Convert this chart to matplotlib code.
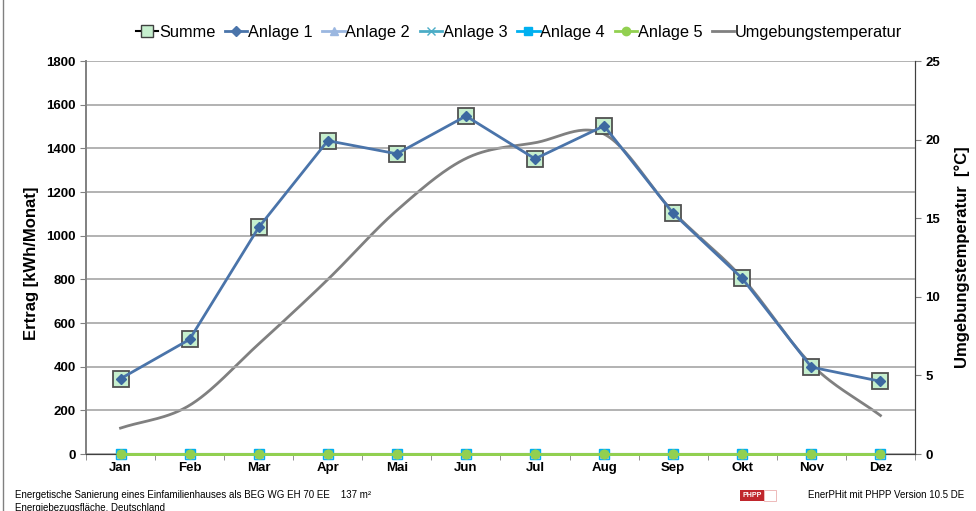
import numpy as np
import matplotlib
matplotlib.use("Agg")
from matplotlib import pyplot as plt
from matplotlib.patches import Rectangle
from matplotlib.lines import Line2D

plt.rcParams['font.family'] = ['Liberation Sans', 'DejaVu Sans']

# data
months = ['Jan', 'Feb', 'Mar', 'Apr', 'Mai', 'Jun', 'Jul', 'Aug', 'Sep', 'Okt', 'Nov', 'Dez']
summe = [345, 525, 1038, 1435, 1375, 1548, 1352, 1503, 1102, 804, 398, 333]
anlage1 = [345, 525, 1038, 1435, 1375, 1548, 1352, 1503, 1102, 804, 398, 333]
anlage2 = [0] * 12
anlage3 = [0] * 12
anlage4 = [0] * 12
anlage5 = [0] * 12
temperatur = [1.65, 3.1, 7.0, 11.1, 15.5, 18.8, 19.8, 20.35, 15.4, 11.2, 5.7, 2.45]


def smooth(xs, ys, n=30):
	# Catmull-Rom spline, similar to the smoothed line of the spreadsheet
	xs = np.asarray(xs, float)
	ys = np.asarray(ys, float)
	px = np.concatenate([[2 * xs[0] - xs[1]], xs, [2 * xs[-1] - xs[-2]]])
	py = np.concatenate([[2 * ys[0] - ys[1]], ys, [2 * ys[-1] - ys[-2]]])
	ox, oy = [], []
	for i in range(1, len(px) - 2):
		t = np.linspace(0, 1, n, endpoint=False)
		for p, o in ((px, ox), (py, oy)):
			p0, p1, p2, p3 = p[i - 1], p[i], p[i + 1], p[i + 2]
			o.extend(0.5 * ((2 * p1) + (-p0 + p2) * t + (2 * p0 - 5 * p1 + 4 * p2 - p3) * t ** 2
							+ (-p0 + 3 * p1 - 3 * p2 + p3) * t ** 3))
	ox.append(xs[-1])
	oy.append(ys[-1])
	return np.array(ox), np.array(oy)


fig = plt.figure(figsize=(9.76, 5.11), dpi=100)
ax = fig.add_axes([0.0881, 0.1115, 0.8494, 0.7691])
ax2 = ax.twinx()

x = np.arange(1, 13)

# gridlines
ax.set_ylim(0, 1800)
ax.set_yticks(range(0, 1801, 200))
ax.yaxis.grid(True, color='#a6a6a6', linewidth=1.2)
ax.set_axisbelow(True)

# temperature (secondary axis), drawn below the yield series
sx, sy = smooth(x, temperatur)
ax2.plot(sx, sy, color='#808080', linewidth=2, zorder=1)
ax2.set_ylim(0, 25)
ax2.set_yticks(range(0, 26, 5))
ax.set_zorder(ax2.get_zorder() + 1)
ax.patch.set_visible(False)

ax.plot(x, anlage5, color='#92d050', linewidth=2, marker='o', markersize=6, zorder=3, clip_on=False)
ax.plot(x, anlage4, color='#00b0f0', linewidth=2, marker='s', markersize=7, zorder=2, clip_on=False)
ax.plot(x, anlage3, color='#4bacc6', linewidth=1.5, marker='x', markersize=6, zorder=2, clip_on=False)
ax.plot(x, anlage2, color='#9bb7e0', linewidth=1.5, marker='^', markersize=6, zorder=2, clip_on=False)
ax.plot(x, summe, color='#404040', linewidth=0, marker='s', markersize=11,
		markerfacecolor='#c6efce', markeredgecolor='#505050', markeredgewidth=1.3, zorder=4)
ax.plot(x, anlage1, color='#4a74aa', linewidth=2, marker='D', markersize=5,
		markerfacecolor='#3c68a0', markeredgecolor='#3c68a0', zorder=5)
ax.plot(x, anlage5, color='#92d050', linewidth=2, marker='o', markersize=6, zorder=6, clip_on=False,
		markeredgecolor='#92d050')

ax.set_xlim(0.5, 12.5)
ax.set_xticks(x)
ax.set_xticklabels(months, fontsize=9.5, fontweight='bold')
ax.set_xticks(np.arange(0.5, 12.6, 1), minor=True)
ax.tick_params(axis='x', which='major', length=0, pad=6)
ax.tick_params(axis='x', which='minor', length=4, color='#808080', direction='out')
ax.tick_params(axis='y', length=4, color='#808080', labelsize=9.5)
for lab in ax.get_yticklabels():
	lab.set_fontweight('bold')
ax2.tick_params(axis='y', length=4, color='#808080', labelsize=9.5)
for lab in ax2.get_yticklabels():
	lab.set_fontweight('bold')

for a in (ax, ax2):
	a.spines['top'].set_visible(False)
	a.spines['left'].set_color('#808080')
	a.spines['right'].set_color('#404040')
	a.spines['bottom'].set_color('#404040')
	a.spines['left'].set_linewidth(1.2)

ax.set_ylabel('Ertrag [kWh/Monat]', fontsize=12, fontweight='bold')
ax.yaxis.set_label_coords(-0.057, 0.485)
ax2.set_ylabel('Umgebungstemperatur  [°C]', fontsize=12, fontweight='bold', labelpad=10)

# legend
handles = [
	Line2D([], [], color='black', linewidth=1.5, marker='s', markersize=8,
		   markerfacecolor='#c6efce', markeredgecolor='#404040'),
	Line2D([], [], color='#4a74aa', linewidth=2, marker='D', markersize=5),
	Line2D([], [], color='#9bb7e0', linewidth=2, marker='^', markersize=6),
	Line2D([], [], color='#4bacc6', linewidth=2, marker='x', markersize=6),
	Line2D([], [], color='#00b0f0', linewidth=2, marker='s', markersize=6),
	Line2D([], [], color='#92d050', linewidth=2, marker='o', markersize=6),
	Line2D([], [], color='#808080', linewidth=2),
]
labels = ['Summe', 'Anlage 1', 'Anlage 2', 'Anlage 3', 'Anlage 4', 'Anlage 5', 'Umgebungstemperatur']
fig.legend(handles, labels, loc='center', bbox_to_anchor=(0.532, 0.937), ncol=7, frameon=False,
		   fontsize=11.8, handlelength=1.35, handletextpad=0.05, columnspacing=0.6)

# footer
fig.text(0.0155, 0.031, 'Energetische Sanierung eines Einfamilienhauses als BEG WG EH 70 EE    137 m²',
		 fontsize=7, va='center')
fig.text(0.0155, 0.006, 'Energiebezugsfläche, Deutschland', fontsize=7, va='center')
fig.add_artist(Rectangle((0.758, 0.019), 0.025, 0.022, transform=fig.transFigure,
						 facecolor='#c0272d', edgecolor='none'))
fig.text(0.7705, 0.030, 'PHPP', fontsize=5, color='white', fontweight='bold', ha='center', va='center')
fig.add_artist(Rectangle((0.783, 0.019), 0.012, 0.022, transform=fig.transFigure,
						 facecolor='white', edgecolor='#e8a0a0', linewidth=0.5))
fig.text(0.828, 0.031, 'EnerPHit mit PHPP Version 10.5 DE', fontsize=7, va='center')
fig.add_artist(Line2D([0.003, 0.003], [0, 1], transform=fig.transFigure, color='#808080', linewidth=1))

fig.savefig('out.png', dpi=100)
